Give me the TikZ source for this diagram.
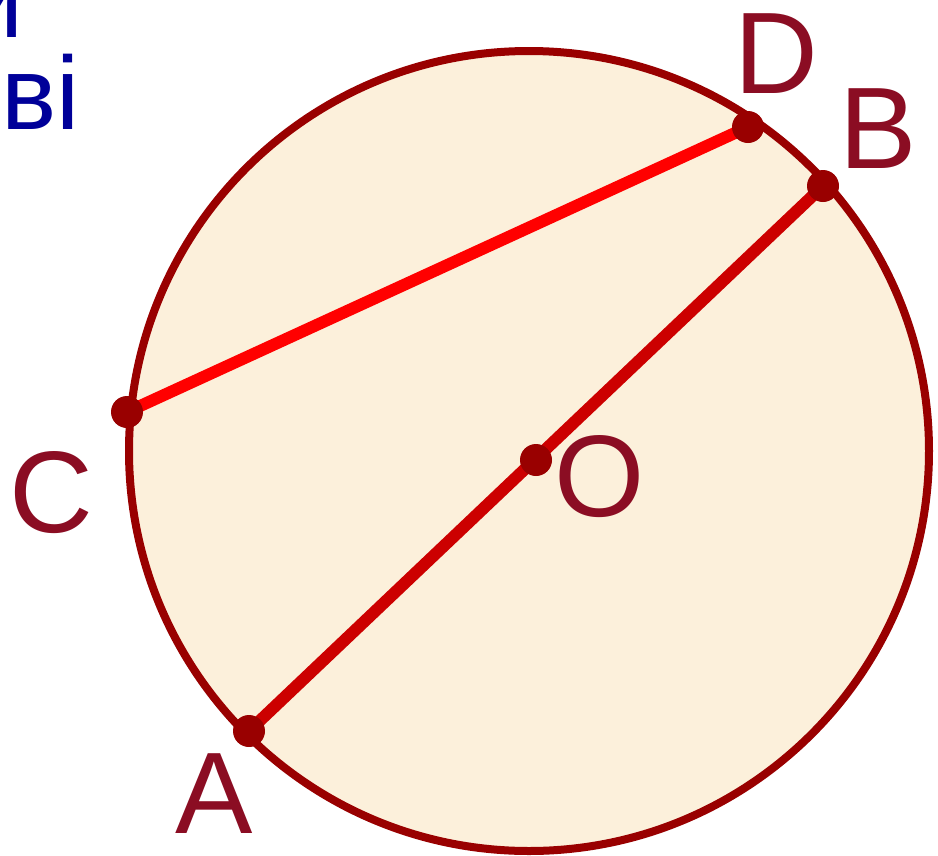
\documentclass[tikz,border=0pt]{standalone}
\usepackage{fontspec}
\setmainfont{Liberation Sans}
\definecolor{ringred}{HTML}{990000}
\definecolor{labelred}{HTML}{8B0D23}
\definecolor{diamred}{HTML}{CC0000}
\definecolor{chordred}{HTML}{FF0000}
\definecolor{cream}{HTML}{FCF0DB}
\definecolor{textblue}{HTML}{000099}
\tikzset{
  ptlabel/.style={anchor=base west, inner sep=0pt, text=labelred, font=\fontsize{116}{130}\selectfont},
  bluetext/.style={anchor=base east, inner sep=0pt, text=textblue, font=\fontsize{104}{120}\selectfont},
  dot/.style={circle, fill=ringred, minimum size=32pt, inner sep=0pt},
}
\begin{document}
\begin{tikzpicture}[x=1pt,y=-1pt]
\useasboundingbox (0,0) rectangle (938,855);
\fill[white] (0,0) rectangle (938,855);
\node[bluetext] (t1) at (24,37) {и};
\node[bluetext] (t2) at (80,129) {дві};
\draw[ringred, line width=8pt, fill=cream] (529,451) circle (400);
\coordinate (D) at (748,127);
\coordinate (B) at (823,186);
\coordinate (C) at (127,412);
\coordinate (O) at (536,460);
\coordinate (A) at (249,731);
\draw[chordred, line width=12pt] (C) -- (D);
\draw[diamred, line width=12pt] (A) -- (B);
\node[dot] (dD) at (D) {};
\node[dot] (dB) at (B) {};
\node[dot] (dC) at (C) {};
\node[dot] (dO) at (O) {};
\node[dot] (dA) at (A) {};
\node[ptlabel] (lD) at (734,93) {D};
\node[ptlabel] (lB) at (839,168) {B};
\node[ptlabel] (lC) at (9,532) {C};
\node[ptlabel] (lO) at (554,516) {O};
\node[ptlabel] (lA) at (175,833) {A};
\end{tikzpicture}
\end{document}
